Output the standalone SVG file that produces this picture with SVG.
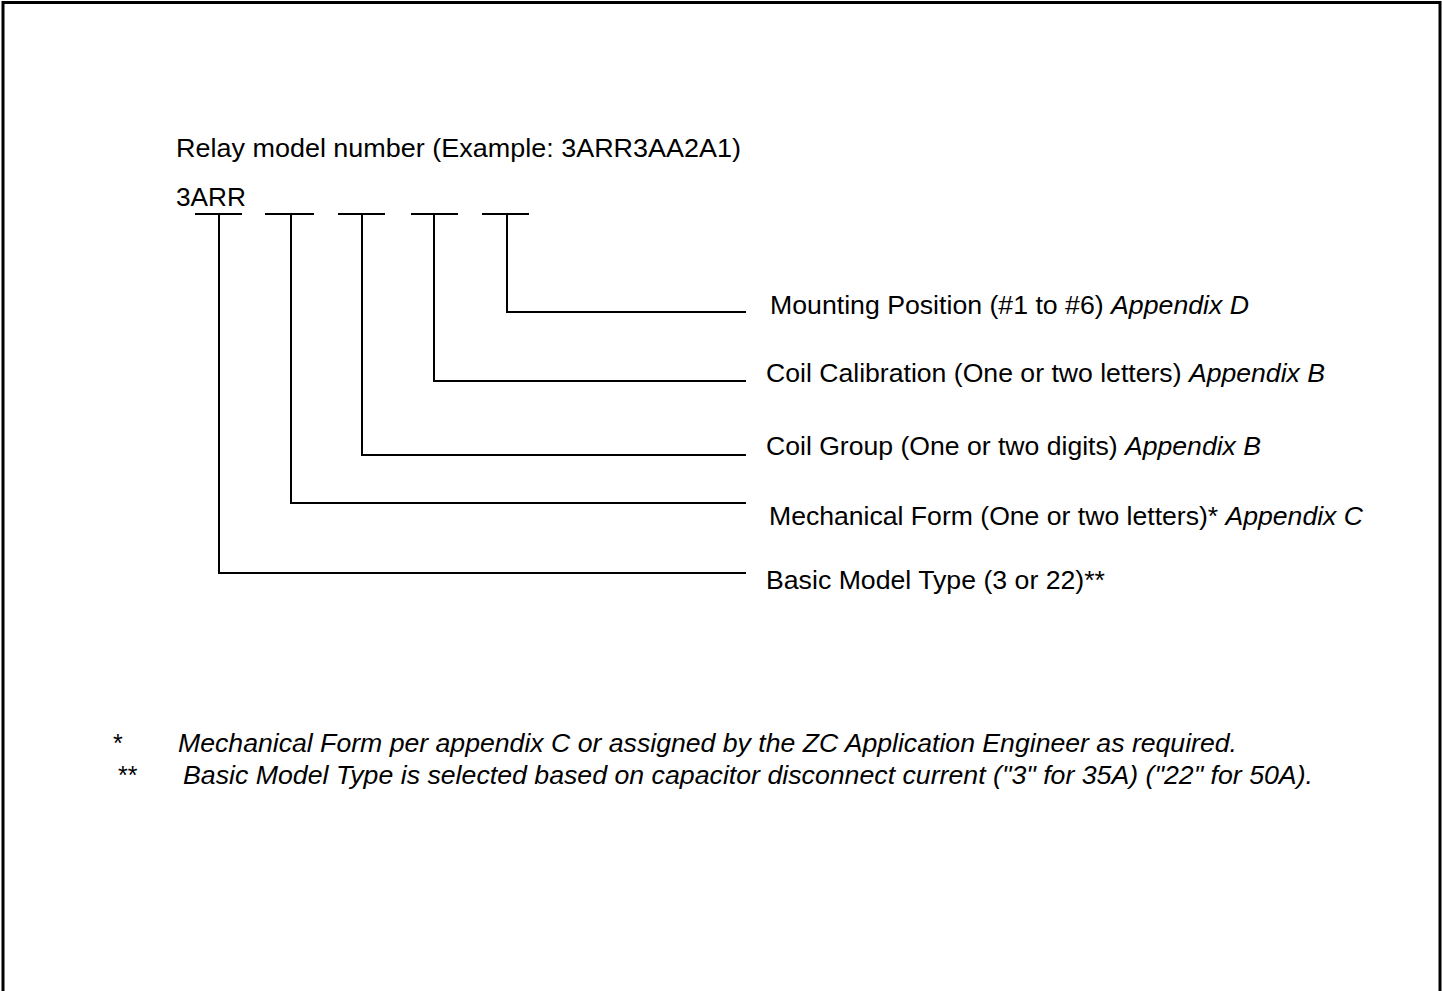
<svg xmlns="http://www.w3.org/2000/svg" width="1442" height="991" viewBox="0 0 1442 991">
<style>
text{font-family:"Liberation Sans",Arial,sans-serif;font-size:25px;fill:#000}
.it{font-style:italic}
.ln{fill:none;stroke:#000;stroke-width:2}
</style>
<rect x="0" y="0" width="1442" height="991" fill="#fff"/>
<rect x="3" y="2.5" width="1437" height="995" fill="none" stroke="#000" stroke-width="3"/>
<g id="title"><text x="176" y="157" textLength="565" lengthAdjust="spacingAndGlyphs">Relay model number (Example: 3ARR3AA2A1)</text></g>
<g id="prefix"><text x="176" y="206" textLength="70" lengthAdjust="spacingAndGlyphs">3ARR</text></g>
<g id="connectors">
<line class="ln" x1="195" y1="214" x2="242" y2="214"/>
<line class="ln" x1="265" y1="214" x2="314" y2="214"/>
<line class="ln" x1="338" y1="214" x2="385" y2="214"/>
<line class="ln" x1="411" y1="214" x2="458" y2="214"/>
<line class="ln" x1="482" y1="214" x2="529" y2="214"/>
<polyline class="ln" points="507,214 507,312 746,312"/>
<polyline class="ln" points="434,214 434,381 746,381"/>
<polyline class="ln" points="362,214 362,455 746,455"/>
<polyline class="ln" points="291,214 291,503 746,503"/>
<polyline class="ln" points="219,214 219,573 746,573"/>
</g>
<g id="mounting"><text x="770" y="314" textLength="479" lengthAdjust="spacingAndGlyphs">Mounting Position (#1 to #6) <tspan class="it">Appendix D</tspan></text></g>
<g id="coil-calibration"><text x="766" y="382" textLength="559" lengthAdjust="spacingAndGlyphs">Coil Calibration (One or two letters) <tspan class="it">Appendix B</tspan></text></g>
<g id="coil-group"><text x="766" y="455" textLength="495" lengthAdjust="spacingAndGlyphs">Coil Group (One or two digits) <tspan class="it">Appendix B</tspan></text></g>
<g id="mechanical-form"><text x="769" y="525" textLength="594" lengthAdjust="spacingAndGlyphs">Mechanical Form (One or two letters)* <tspan class="it">Appendix C</tspan></text></g>
<g id="basic-model"><text x="766" y="589" textLength="339" lengthAdjust="spacingAndGlyphs">Basic Model Type (3 or 22)**</text></g>
<g id="note1">
<text x="113" y="752">*</text>
<text class="it" x="178" y="752" textLength="1059" lengthAdjust="spacingAndGlyphs">Mechanical Form per appendix C or assigned by the ZC Application Engineer as required.</text>
</g>
<g id="note2">
<text x="118" y="784">**</text>
<text class="it" x="183" y="784" textLength="1130" lengthAdjust="spacingAndGlyphs">Basic Model Type is selected based on capacitor disconnect current  ("3" for 35A) ("22" for 50A).</text>
</g>
</svg>
